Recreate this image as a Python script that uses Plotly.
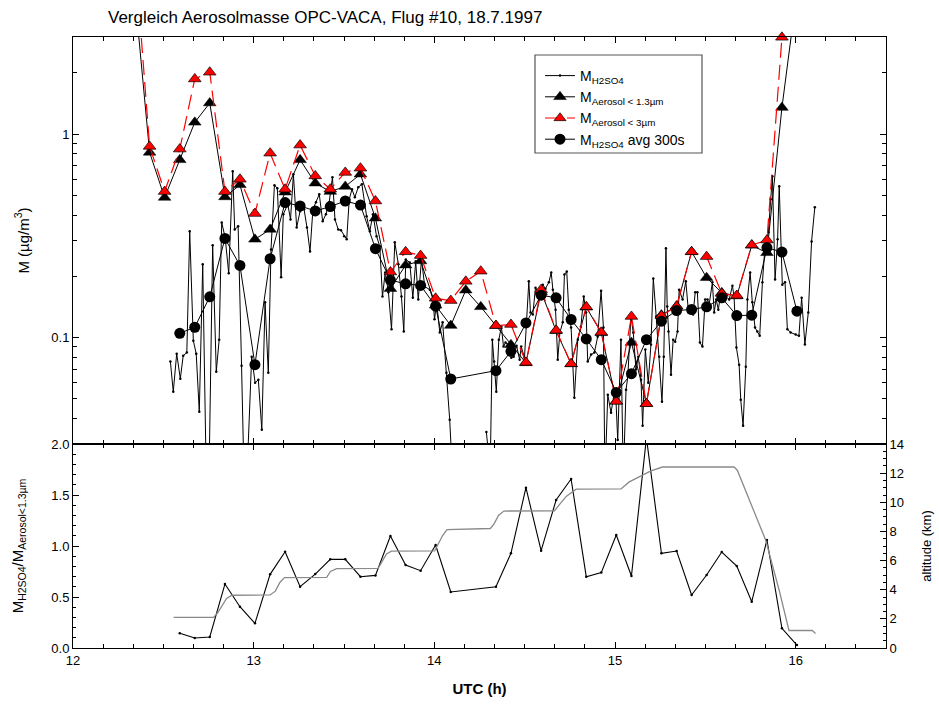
import plotly.graph_objects as go
import math

# ---------------- data ----------------
# high-resolution H2SO4 mass (µg/m3)
t_h2so4 = [12.539, 12.555, 12.574, 12.594, 12.610, 12.630, 12.646, 12.666, 12.682, 12.699,
           12.718, 12.737, 12.754, 12.773, 12.793, 12.809, 12.823, 12.842, 12.862, 12.884,
           12.895, 12.914, 12.933, 12.947, 12.964, 12.989, 13.008, 13.026, 13.045, 13.063,
           13.081, 13.096, 13.115, 13.131, 13.152, 13.164, 13.189, 13.204, 13.220, 13.238,
           13.257, 13.279, 13.295, 13.312, 13.328, 13.345, 13.363, 13.382, 13.400, 13.418,
           13.436, 13.450, 13.468, 13.483, 13.501, 13.515, 13.529, 13.544, 13.560, 13.579,
           13.599, 13.625, 13.643, 13.660, 13.680, 13.698, 13.713, 13.728, 13.746, 13.763,
           13.781, 13.801, 13.818, 13.831, 13.842, 13.864, 13.881, 13.897, 13.911, 13.929,
           13.947, 13.975, 13.993, 14.001, 14.013, 14.030, 14.046, 14.067, 14.085, 14.102,
           14.200, 14.288, 14.309, 14.321, 14.331, 14.343, 14.357, 14.371, 14.383, 14.394,
           14.408, 14.426, 14.439, 14.455, 14.472, 14.481, 14.499, 14.523, 14.532, 14.545,
           14.560, 14.573, 14.588, 14.600, 14.615, 14.634, 14.647, 14.656, 14.671, 14.683,
           14.695, 14.711, 14.720, 14.733, 14.744, 14.757, 14.775, 14.794, 14.811, 14.827,
           14.840, 14.849, 14.868, 14.886, 14.904, 14.923, 14.936, 14.944, 14.960, 14.978,
           14.996, 15.006, 15.015, 15.033, 15.046, 15.061, 15.071, 15.088, 15.101, 15.116,
           15.129, 15.144, 15.153, 15.168, 15.184, 15.199, 15.212, 15.228, 15.245, 15.260,
           15.270, 15.282, 15.289, 15.296, 15.310, 15.322, 15.333, 15.346, 15.355, 15.374,
           15.392, 15.407, 15.420, 15.432, 15.444, 15.456, 15.470, 15.484, 15.499, 15.512,
           15.521, 15.539, 15.549, 15.560, 15.572, 15.586, 15.595, 15.613, 15.632, 15.650,
           15.659, 15.672, 15.687, 15.696, 15.709, 15.724, 15.733, 15.748, 15.760, 15.775,
           15.788, 15.801, 15.816, 15.830, 15.849, 15.862, 15.871, 15.886, 15.900, 15.909,
           15.926, 15.941, 15.954, 15.972, 16.000, 16.018, 16.033, 16.051, 16.070, 16.088, 16.106]
m_h2so4 = [0.0762, 0.0542, 0.0834, 0.0628, 0.0815, 0.0844, 0.333, 0.0966, 0.0834, 0.0432,
           0.229, 0.022, 0.024, 0.284, 0.068, 0.0977, 0.368, 0.311, 0.207, 0.657,
           0.340, 0.352, 0.0728, 0.020, 0.022, 0.0806, 0.060, 0.0621, 0.0352, 0.149,
           0.0672, 0.271, 0.561, 0.542, 0.198, 0.404, 0.452, 0.381, 0.635, 0.348,
           0.418, 0.427, 0.348, 0.265, 0.427, 0.462, 0.506, 0.373, 0.404, 0.462,
           0.614, 0.381, 0.340, 0.337, 0.315, 0.304, 0.478, 0.536, 0.490, 0.548,
           0.567, 0.395, 0.333, 0.404, 0.315, 0.281, 0.159, 0.209, 0.167, 0.110,
           0.294, 0.229, 0.159, 0.107, 0.242, 0.234, 0.157, 0.237, 0.154, 0.242,
           0.178, 0.172, 0.154, 0.123, 0.149, 0.106, 0.119, 0.0672, 0.0395, 0.020,
           None, 0.0344, 0.022, 0.0977, 0.0762, 0.0542, 0.0977, 0.113, 0.0903, 0.0945,
           0.0924, 0.0797, 0.0806, 0.0913, 0.0779, 0.0903, 0.0797, 0.189, 0.133, 0.130,
           0.176, 0.169, 0.159, 0.182, 0.174, 0.187, 0.209, 0.172, 0.137, 0.0779,
           0.106, 0.119, 0.204, 0.211, 0.137, 0.112, 0.0506, 0.0977, 0.113, 0.159,
           0.133, 0.0762, 0.0825, 0.0844, 0.101, 0.170, 0.112, 0.020, 0.0524, 0.0427,
           0.0536, 0.0478, 0.0314, 0.0977, 0.020, 0.0554, 0.0643, 0.127, 0.106, 0.0696,
           0.0806, 0.0621, 0.0369, 0.0873, 0.060, 0.0924, 0.195, 0.127, 0.0806, 0.0484,
           0.0806, 0.275, 0.142, 0.107, 0.0657, 0.0977, 0.0955, 0.107, 0.172, 0.154,
           0.189, 0.133, 0.137, 0.130, 0.167, 0.167, 0.0945, 0.0903, 0.154, 0.154,
           0.145, 0.187, 0.133, 0.154, 0.137, 0.167, 0.163, 0.159, 0.154, 0.180,
           0.159, 0.0893, 0.0736, 0.0495, 0.0369, 0.072, 0.154, 0.209, 0.149, 0.112,
           0.107, 0.102, 0.187, 0.278, 0.329, 0.478, 0.621, 0.193, 0.304, 0.554,
           0.182, 0.187, 0.110, 0.106, 0.1035, 0.102, 0.157, 0.0924, 0.133, 0.297, 0.437]

# 5-minute OPC aerosol masses
t_opc = [12.341, 12.424, 12.507, 12.591, 12.674, 12.757, 12.841, 12.924, 13.007, 13.091,
         13.174, 13.257, 13.341, 13.424, 13.507, 13.591, 13.674, 13.757, 13.841, 13.924,
         14.007, 14.091, 14.174, 14.257, 14.341, 14.424, 14.507, 14.591, 14.674, 14.757,
         14.841, 14.924, 15.007, 15.091, 15.174, 15.257, 15.341, 15.424, 15.507, 15.591,
         15.674, 15.757, 15.841, 15.924, 16.007]
m_aer13 = [5.0, 0.813, 0.488, 0.747, 1.142, 1.421, 0.491, 0.563, 0.304, 0.340,
           0.518, 0.747, 0.574, 0.522, 0.553, 0.635, 0.386, 0.174, 0.227, 0.238,
           0.144, 0.1146, 0.171, 0.1416, 0.1145, 0.0922, 0.0751, 0.168, 0.108, 0.0742,
           0.141, 0.1055, 0.0486, 0.0945, 0.0474, 0.129, 0.1426, 0.264, 0.197, 0.166,
           0.160, 0.284, 0.261, 1.35, 5.0]
m_aer3 = [8.0, 0.870, 0.522, 0.844, 1.866, 2.014, 0.522, 0.600, 0.407, 0.806,
          0.536, 0.883, 0.623, 0.536, 0.648, 0.680, 0.469, 0.210, 0.264, 0.253,
          0.156, 0.152, 0.189, 0.212, 0.1146, 0.116, 0.0755, 0.172, 0.1086, 0.0744,
          0.1416, 0.1062, 0.0486, 0.127, 0.0473, 0.128, 0.1426, 0.264, 0.250, 0.1647,
          0.161, 0.285, 0.3015, 2.99, 9.0]

# 300 s average of H2SO4 mass and ratio to OPC < 1.3 µm
t_avg = [12.591, 12.674, 12.757, 12.841, 12.924, 13.007, 13.091, 13.174, 13.257, 13.341,
         13.424, 13.507, 13.591, 13.674, 13.757, 13.841, 13.924, 14.007, 14.091,
         14.341, 14.424, 14.507, 14.591, 14.674, 14.757, 14.841, 14.924, 15.007, 15.091,
         15.174, 15.257, 15.341, 15.424, 15.507, 15.591, 15.674, 15.757, 15.841, 15.924, 16.007]
m_avg = [0.105, 0.1124, 0.1587, 0.307, 0.2263, 0.0736, 0.244, 0.4608, 0.4436, 0.419,
         0.4405, 0.469, 0.448, 0.2735, 0.1915, 0.1838, 0.1804, 0.1426, 0.0626,
         0.0688, 0.0856, 0.118, 0.1616, 0.1568, 0.1227, 0.0985, 0.0779, 0.0538, 0.0665,
         0.0977, 0.1204, 0.1358, 0.1374, 0.1416, 0.1568, 0.1283, 0.1288, 0.2766, 0.2632, 0.1348]
ratio = [0.144, 0.098, 0.108, 0.627, 0.405, 0.242, 0.722, 0.944, 0.601, 0.725,
         0.869, 0.869, 0.699, 0.712, 1.098, 0.814, 0.758, 1.010, 0.549,
         0.601, 0.928, 1.572, 0.954, 1.451, 1.657, 0.699, 0.739, 1.108, 0.706,
         2.06, 0.928, 0.951, 0.520, 0.716, 0.941, 0.804, 0.454, 1.059, 0.193, 0.029]

# flight altitude (km)
t_alt = [12.557, 12.778, 12.800, 12.826, 12.850, 12.879, 13.091, 13.120, 13.145, 13.170,
         13.404, 13.425, 13.459, 13.689, 13.710, 13.735, 13.763, 14.002, 14.020, 14.045,
         14.070, 14.310, 14.330, 14.355, 14.385, 14.665, 14.690, 14.730, 14.785, 15.033,
         15.079, 15.140, 15.199, 15.263, 15.659, 15.677, 15.750, 15.834, 15.908, 15.963,
         16.092, 16.110]
alt = [2.1, 2.1, 2.4, 2.9, 3.4, 3.62, 3.64, 3.9, 4.5, 4.83,
       4.85, 5.25, 5.45, 5.47, 5.9, 6.45, 6.65, 6.66, 7.1, 7.7,
       8.12, 8.2, 8.5, 9.1, 9.4, 9.42, 9.8, 10.4, 10.9, 10.92,
       11.4, 11.8, 12.15, 12.42, 12.42, 12.2, 10.0, 7.4, 4.0, 1.2,
       1.2, 1.0]

title_text = "Vergleich Aerosolmasse OPC-VACA, Flug #10, 18.7.1997"
x_ticks = [12, 13, 14, 15, 16]
# --------------------------------------

FONT = "Liberation Sans, Arial, sans-serif"

red_sizes = [11] * len(t_opc)
red_sizes[0] = 0
red_sizes[-1] = 0

fig = go.Figure()
fig.add_trace(go.Scatter(
    x=t_h2so4, y=m_h2so4, mode="lines+markers", name="M<sub>H2SO4</sub>",
    line=dict(color="black", width=1), marker=dict(color="black", size=2.5),
    connectgaps=False, xaxis="x", yaxis="y"))
fig.add_trace(go.Scatter(
    x=t_opc, y=m_aer13, mode="lines+markers", name="M<sub>Aerosol &lt; 1.3µm</sub>",
    line=dict(color="black", width=1),
    marker=dict(symbol="triangle-up", color="black", size=11, opacity=1,
                line=dict(color="black", width=0.5)),
    xaxis="x", yaxis="y"))
fig.add_trace(go.Scatter(
    x=t_opc, y=m_aer3, mode="lines+markers", name="M<sub>Aerosol &lt; 3µm</sub>",
    line=dict(color="#ff0000", width=1.2, dash="15px,7px"),
    marker=dict(symbol="triangle-up", color="#ff0000", size=red_sizes, opacity=1,
                line=dict(color="black", width=0.7)),
    cliponaxis=False, xaxis="x", yaxis="y"))
fig.add_trace(go.Scatter(
    x=t_avg, y=m_avg, mode="lines+markers", name="M<sub>H2SO4</sub> avg 300s",
    line=dict(color="black", width=1),
    marker=dict(symbol="circle", color="black", size=11, opacity=1),
    xaxis="x", yaxis="y"))
fig.add_trace(go.Scatter(
    x=t_alt, y=alt, mode="lines", showlegend=False,
    line=dict(color="#8a8a8a", width=1.3), xaxis="x2", yaxis="y3"))
fig.add_trace(go.Scatter(
    x=t_avg, y=ratio, mode="lines+markers", showlegend=False,
    line=dict(color="black", width=1.1), marker=dict(color="black", size=2.5),
    xaxis="x2", yaxis="y2"))

split = 204 / 611
minor_log = [0.03, 0.04, 0.05, 0.06, 0.07, 0.08, 0.09,
             0.2, 0.3, 0.4, 0.5, 0.6, 0.7, 0.8, 0.9, 2, 3]

axis_common = dict(showline=True, linecolor="black", linewidth=1, showgrid=False,
                   zeroline=False, ticks="inside", tickcolor="black", automargin=False,
                   tickfont=dict(family=FONT, size=13, color="black"))

fig.update_layout(
    width=939, height=704,
    margin=dict(l=73, r=53, t=37, b=56, autoexpand=False),
    paper_bgcolor="white", plot_bgcolor="white",
    font=dict(family=FONT, color="black", size=13),
    title=dict(text=title_text, x=108 / 939, xanchor="left", xref="container",
               y=1 - 17 / 704, yanchor="middle", yref="container",
               font=dict(family=FONT, size=17, color="black")),
    xaxis=dict(domain=[0, 1], anchor="y", range=[12, 16.5], tickmode="array",
               tickvals=x_ticks, showticklabels=False, ticklen=6, mirror="ticks",
               minor=dict(dtick=1 / 6, tick0=12, ticks="inside", ticklen=4, tickcolor="black"),
               **axis_common),
    yaxis=dict(domain=[split, 1], anchor="x", type="log",
               range=[math.log10(0.03), math.log10(3.0)],
               tickmode="array", tickvals=[0.1, 1], ticktext=["0.1", "1"], ticklen=6,
               mirror="ticks",
               minor=dict(tickmode="array", tickvals=minor_log, ticks="inside", ticklen=4,
                          tickcolor="black"),
               title=dict(text="M (µg/m<sup>3</sup>)", font=dict(family=FONT, size=15), standoff=18),
               **axis_common),
    xaxis2=dict(domain=[0, 1], anchor="y2", range=[12, 16.5], tickmode="array",
                tickvals=x_ticks, ticklen=6, mirror="ticks",
                minor=dict(dtick=1 / 6, tick0=12, ticks="inside", ticklen=4, tickcolor="black"),
                title=dict(text="<b>UTC (h)</b>", font=dict(family=FONT, size=15), standoff=16),
                **axis_common),
    yaxis2=dict(domain=[0, split], anchor="x2", range=[0, 2.0], dtick=0.5, tick0=0,
                tickformat=".1f", ticklen=6,
                minor=dict(dtick=0.1, ticks="inside", ticklen=3, tickcolor="black"),
                title=dict(text="M<sub>H2SO4</sub>/M<sub>Aerosol&lt;1.3µm</sub>",
                           font=dict(family=FONT, size=15), standoff=24),
                **axis_common),
    yaxis3=dict(overlaying="y2", anchor="x2", side="right", range=[0, 14], dtick=2, tick0=0,
                ticklen=6,
                minor=dict(dtick=0.5, ticks="inside", ticklen=3, tickcolor="black"),
                title=dict(text="altitude (km)", font=dict(family=FONT, size=13), standoff=18),
                **axis_common),
    legend=dict(x=(540 - 73) / 813, y=(648 - 60) / 611, xanchor="left", yanchor="top",
                bgcolor="rgba(255,255,255,0)", borderwidth=0,
                font=dict(family=FONT, size=14, color="black"),
                tracegroupgap=0),
    shapes=[dict(type="rect", xref="paper", yref="paper",
                 x0=(535 - 73) / 813, x1=(702 - 73) / 813,
                 y0=(648 - 153) / 611, y1=(648 - 55) / 611,
                 line=dict(color="#555555", width=1.2), fillcolor="rgba(0,0,0,0)")],
)

fig.write_html("out.html")
